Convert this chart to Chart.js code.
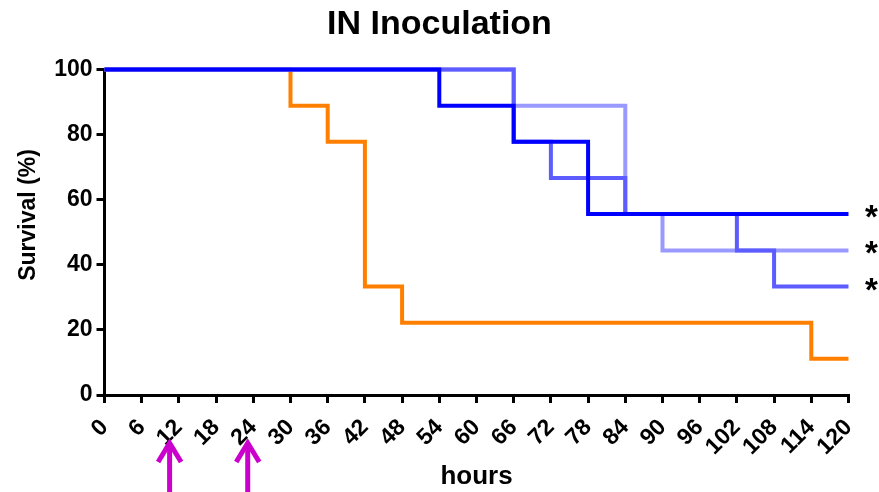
<!DOCTYPE html>
<html>
<head>
<meta charset="utf-8">
<script src="https://cdn.jsdelivr.net/npm/chart.js@4.4.1/dist/chart.umd.min.js"></script>
<style>
  html, body { margin: 0; padding: 0; background: #fff; }
  #wrap { width: 879px; height: 492px; position: relative; }
</style>
</head>
<body>
<div id="wrap"><canvas id="c" width="879" height="492"></canvas></div>
<script>
// ---- Data (Kaplan-Meier step points: hour at which survival changes) ----
const chartTitle = "IN Inoculation";
const xTitle = "hours";
const yTitle = "Survival (%)";

const xTickStep = 6;     // x tick labels 0,6,...,120
const xMin = 0, xMax = 120;
const yTickStep = 20;    // y tick labels 0..100
const yMin = 0, yMax = 100;

const orangeHours = [0, 30, 36, 42, 48, 114, 120];
const orangeSurv  = [100, 88.9, 77.8, 33.3, 22.2, 11.1, 11.1];

const darkHours   = [0, 54, 66, 78, 120];
const darkSurv    = [100, 88.9, 77.8, 55.6, 55.6];

const mediumHours = [0, 66, 72, 84, 102, 108, 120];
const mediumSurv  = [100, 77.8, 66.7, 55.6, 44.4, 33.3, 33.3];

const lightHours  = [0, 66, 84, 90, 120];
const lightSurv   = [100, 88.9, 55.6, 44.4, 44.4];

// significance markers (final survival levels of blue groups)
const asteriskLevels = [55.6, 44.4, 33.3];
// inoculation arrows (hours)
const arrowHours = [10.5, 23.1];

function pts(xs, ys) { return xs.map((x, i) => ({ x: x, y: ys[i] })); }

const FONT = "'Liberation Sans', Arial, Helvetica, sans-serif";

const extrasPlugin = {
  id: 'extras',
  afterDraw(chart) {
    const ctx = chart.ctx;
    const xs = chart.scales.x, ys = chart.scales.y;
    ctx.save();
    // y-axis title
    ctx.fillStyle = '#000';
    ctx.font = "bold 23px " + FONT;
    ctx.textAlign = 'center';
    ctx.textBaseline = 'middle';
    ctx.translate(29, 215);
    ctx.rotate(-Math.PI / 2);
    ctx.fillText(yTitle, 0, 0);
    ctx.restore();

    // asterisks
    ctx.save();
    ctx.fillStyle = '#000';
    ctx.font = "bold 33px " + FONT;
    ctx.textAlign = 'center';
    ctx.textBaseline = 'alphabetic';
    asteriskLevels.forEach(v => {
      const y = ys.getPixelForValue(v);
      ctx.fillText('*', 871.5, y + 14);
    });
    ctx.restore();

    // arrows
    ctx.save();
    ctx.strokeStyle = '#CC00CC';
    ctx.lineWidth = 5;
    ctx.lineCap = 'butt';
    ctx.lineJoin = 'miter';
    arrowHours.forEach(h => {
      const x = xs.getPixelForValue(h);
      ctx.beginPath();
      ctx.moveTo(x, 443);
      ctx.lineTo(x, 492);
      ctx.stroke();
      ctx.beginPath();
      ctx.moveTo(x - 11.5, 462);
      ctx.lineTo(x, 443);
      ctx.lineTo(x + 11.5, 462);
      ctx.stroke();
    });
    ctx.restore();
  }
};

function ds(label, data, color) {
  return {
    label: label,
    data: data,
    borderColor: color,
    backgroundColor: color,
    borderWidth: 4,
    stepped: 'before',
    pointRadius: 0,
    fill: false,
    clip: false,
    borderCapStyle: 'butt',
    borderJoinStyle: 'miter'
  };
}

new Chart(document.getElementById('c'), {
  type: 'line',
  data: {
    datasets: [
      ds('dark', pts(darkHours, darkSurv), '#0000FF'),
      ds('medium', pts(mediumHours, mediumSurv), '#5C5CFF'),
      ds('light', pts(lightHours, lightSurv), '#9999FF'),
      ds('orange', pts(orangeHours, orangeSurv), '#FF8000')
    ]
  },
  options: {
    responsive: false,
    animation: false,
    layout: { padding: { left: 0, right: 0, top: 0, bottom: 0 } },
    plugins: {
      legend: { display: false },
      tooltip: { enabled: false },
      title: {
        display: true,
        text: chartTitle,
        color: '#000',
        font: { family: FONT, size: 34, weight: 'bold' },
        padding: { top: 4, bottom: 24.7 }
      }
    },
    scales: {
      x: {
        type: 'linear',
        min: xMin, max: xMax,
        afterFit(scale) { scale.height = 97; },
        border: { display: true, color: '#000', width: 3 },
        grid: { drawOnChartArea: false, drawTicks: true, tickLength: 8, color: '#000', lineWidth: 3 },
        ticks: {
          stepSize: xTickStep,
          autoSkip: false,
          minRotation: 45, maxRotation: 45,
          color: '#000',
          padding: 11,
          font: { family: FONT, size: 23, weight: 'bold' }
        },
        title: {
          display: true,
          text: xTitle,
          color: '#000',
          font: { family: FONT, size: 26, weight: 'bold' },
          padding: { top: 0, bottom: 0 }
        }
      },
      y: {
        type: 'linear',
        min: yMin, max: yMax,
        afterFit(scale) { scale.width = 104.5; },
        border: { display: true, color: '#000', width: 3 },
        grid: { drawOnChartArea: false, drawTicks: true, tickLength: 8, color: '#000', lineWidth: 3 },
        ticks: {
          stepSize: yTickStep,
          color: '#000',
          padding: 4,
          font: { family: FONT, size: 23, weight: 'bold' }
        }
      },
      yRight: {
        type: 'linear',
        position: 'right',
        min: yMin, max: yMax,
        afterFit(scale) { scale.width = 30.5; },
        border: { display: false },
        grid: { display: false },
        ticks: { display: false }
      }
    }
  },
  plugins: [extrasPlugin]
});
</script>
</body>
</html>
